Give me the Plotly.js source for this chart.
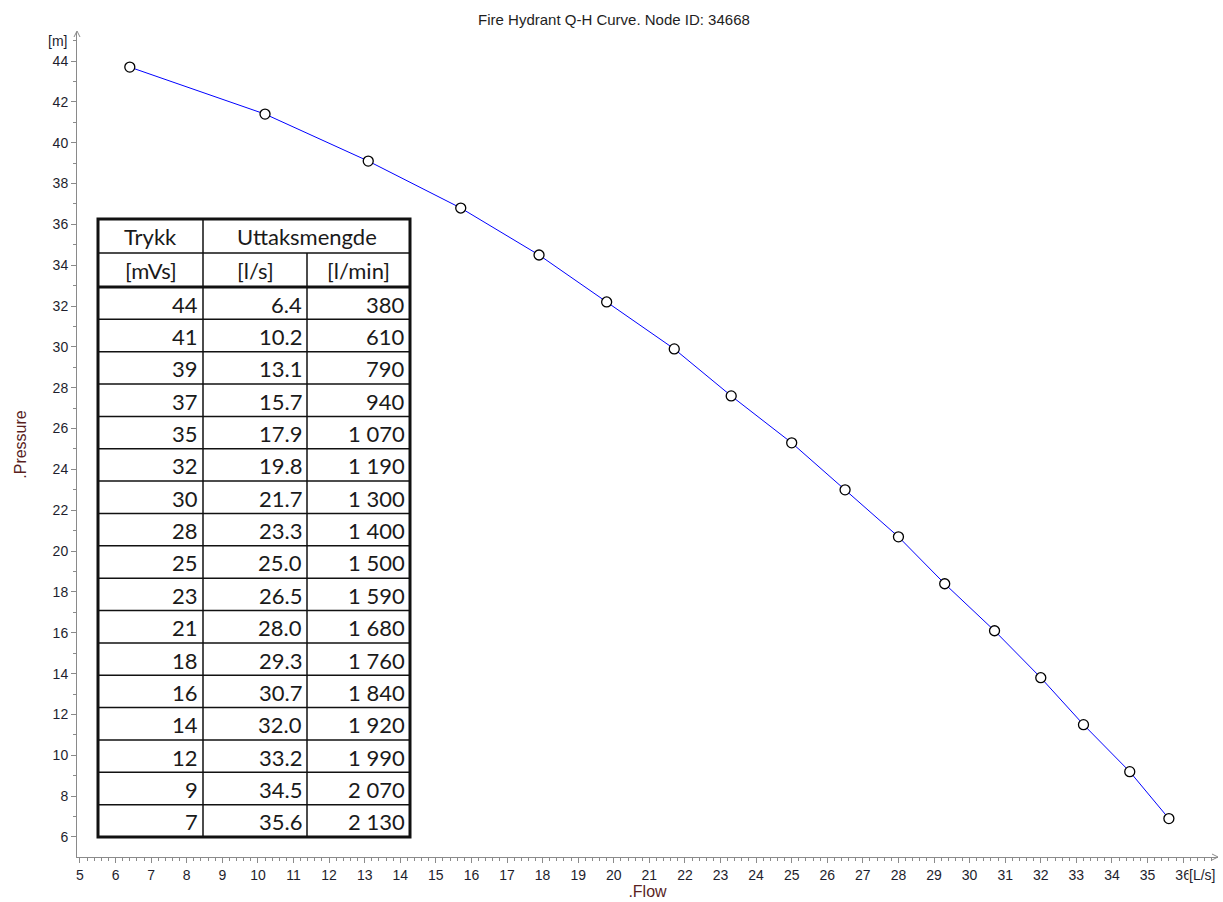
<!DOCTYPE html>
<html>
<head>
<meta charset="utf-8">
<script src="https://cdn.plot.ly/plotly-3.0.1.min.js"></script>
<style>html,body{margin:0;padding:0;background:#fff}#chart{width:1223px;height:902px}</style>
</head>
<body>
<div id="chart"></div>
<script>
// ---- data ----
const chartTitle = 'Fire Hydrant Q-H Curve. Node ID: 34668';
const flowLs = [6.4, 10.2, 13.1, 15.7, 17.9, 19.8, 21.7, 23.3, 25.0, 26.5, 28.0, 29.3, 30.7, 32.0, 33.2, 34.5, 35.6];
const pressure = [43.7, 41.4, 39.1, 36.8, 34.5, 32.2, 29.9, 27.6, 25.3, 23.0, 20.7, 18.4, 16.1, 13.8, 11.5, 9.2, 6.9];
const trykk = [44, 41, 39, 37, 35, 32, 30, 28, 25, 23, 21, 18, 16, 14, 12, 9, 7];
const flowLmin = [380, 610, 790, 940, 1070, 1190, 1300, 1400, 1500, 1590, 1680, 1760, 1840, 1920, 1990, 2070, 2130];
const headerTop = ['Trykk', 'Uttaksmengde'];
const headerUnits = ['[mVs]', '[l/s]', '[l/min]'];

// ---- layout geometry (pixels) ----
const W = 1223, H = 902;
const M = {l: 77, r: 5, t: 32, b: 45};
const PW = W - M.l - M.r, PH = H - M.t - M.b;
const fx = px => (px - M.l) / PW;
const fy = py => (H - M.b - py) / PH;

function fmtThousands(v) {
  const s = String(v);
  return s.length > 3 ? s.slice(0, s.length - 3) + ' ' + s.slice(s.length - 3) : s;
}

const shapes = [];
const annotations = [];
const line = (x0, y0, x1, y1, w) => shapes.push({type: 'line', xref: 'paper', yref: 'paper',
  x0: fx(x0), y0: fy(y0), x1: fx(x1), y1: fy(y1), line: {color: '#111', width: w}});

// table
const tL = 98, tR = 410, tT = 219, tB = 837, c1 = 203, c2 = 307, h1 = 253, h2 = 287;
const nRows = trykk.length;
const rowH = (tB - h2) / nRows;
for (let i = 1; i < nRows; i++) line(tL, h2 + i * rowH, tR, h2 + i * rowH, 1.5);
line(tL, h1, tR, h1, 1.5);
line(c1, tT, c1, tB, 1.5);
line(c2, h1, c2, tB, 1.5);
line(tL, h2, tR, h2, 3);
shapes.push({type: 'rect', xref: 'paper', yref: 'paper', x0: fx(tL), x1: fx(tR), y0: fy(tB), y1: fy(tT),
  line: {color: '#111', width: 3}});

const tFont = {family: 'Lato, "Open Sans", sans-serif', size: 22, color: '#1a1a1a'};
const txt = (x, y, text, anchor) => annotations.push({xref: 'paper', yref: 'paper', x: fx(x), y: fy(y),
  text: text, showarrow: false, xanchor: anchor, yanchor: 'middle', font: tFont});
txt((tL + c1) / 2, (tT + h1) / 2, headerTop[0], 'center');
txt((c1 + tR) / 2, (tT + h1) / 2, headerTop[1], 'center');
txt((tL + c1) / 2, (h1 + h2) / 2, headerUnits[0], 'center');
txt((c1 + c2) / 2, (h1 + h2) / 2, headerUnits[1], 'center');
txt((c2 + tR) / 2, (h1 + h2) / 2, headerUnits[2], 'center');
for (let i = 0; i < nRows; i++) {
  const yc = h2 + (i + 0.5) * rowH + 1;
  txt(c1 - 3, yc, String(trykk[i]), 'right');
  txt(c2 - 3, yc, flowLs[i].toFixed(1), 'right');
  txt(tR - 3, yc, fmtThousands(flowLmin[i]), 'right');
}

// axis arrows
const axisCol = '#8a8a8a';
shapes.push({type: 'path', xref: 'paper', yref: 'paper', line: {color: axisCol, width: 1},
  path: `M ${fx(74)} ${fy(37)} L ${fx(77)} ${fy(31)} L ${fx(80)} ${fy(37)}`});
shapes.push({type: 'path', xref: 'paper', yref: 'paper', line: {color: axisCol, width: 1},
  path: `M ${fx(1212)} ${fy(854)} L ${fx(1218)} ${fy(857)} L ${fx(1212)} ${fy(860)}`});

const FAM = '"Liberation Sans", Arial, sans-serif';
const axFont = {family: FAM, size: 14, color: '#1e1e2e'};
annotations.push({xref: 'paper', yref: 'paper', x: fx(69), y: fy(41), text: '[m]', showarrow: false,
  xanchor: 'right', yanchor: 'middle', font: axFont});
annotations.push({xref: 'paper', yref: 'paper', x: fx(1188), y: fy(875), text: '[L/s]', showarrow: false,
  xanchor: 'left', yanchor: 'middle', bgcolor: '#ffffff', borderpad: 0, font: axFont});

const trace = {
  x: flowLs, y: pressure, type: 'scatter', mode: 'lines+markers',
  line: {color: '#0000ff', width: 1},
  marker: {symbol: 'circle', size: 10, color: '#ffffff', line: {color: '#000000', width: 1.3}},
  hoverinfo: 'x+y'
};

const layout = {
  width: W, height: H,
  margin: M,
  paper_bgcolor: '#ffffff', plot_bgcolor: '#ffffff',
  showlegend: false,
  title: {text: chartTitle, x: 0.502, xanchor: 'center', y: 1 - 20 / H, yanchor: 'middle',
    font: {family: FAM, size: 15, color: '#1e1e1e'}},
  xaxis: {
    range: [4.916, 36.98], tick0: 5, dtick: 1, showgrid: false, zeroline: false,
    showline: true, linecolor: axisCol, linewidth: 1,
    ticks: 'outside', ticklen: 5, tickcolor: axisCol, tickwidth: 1,
    minor: {dtick: 0.2, ticks: 'outside', ticklen: 3, tickcolor: axisCol, showgrid: false},
    tickfont: axFont,
    title: {text: '.Flow', standoff: 1, font: {family: FAM, size: 16, color: '#5a1f1f'}}
  },
  yaxis: {
    range: [5.02, 45.42], tick0: 6, dtick: 2, showgrid: false, zeroline: false,
    showline: true, linecolor: axisCol, linewidth: 1,
    ticks: 'outside', ticklen: 5, tickcolor: axisCol, tickwidth: 1,
    minor: {dtick: 1, ticks: 'outside', ticklen: 3, tickcolor: axisCol, showgrid: false},
    tickfont: axFont,
    title: {text: '.Pressure', standoff: 22, font: {family: FAM, size: 16, color: '#5a1f1f'}}
  },
  shapes: shapes,
  annotations: annotations
};

Plotly.newPlot('chart', [trace], layout, {displayModeBar: false, staticPlot: true});
</script>
</body>
</html>
